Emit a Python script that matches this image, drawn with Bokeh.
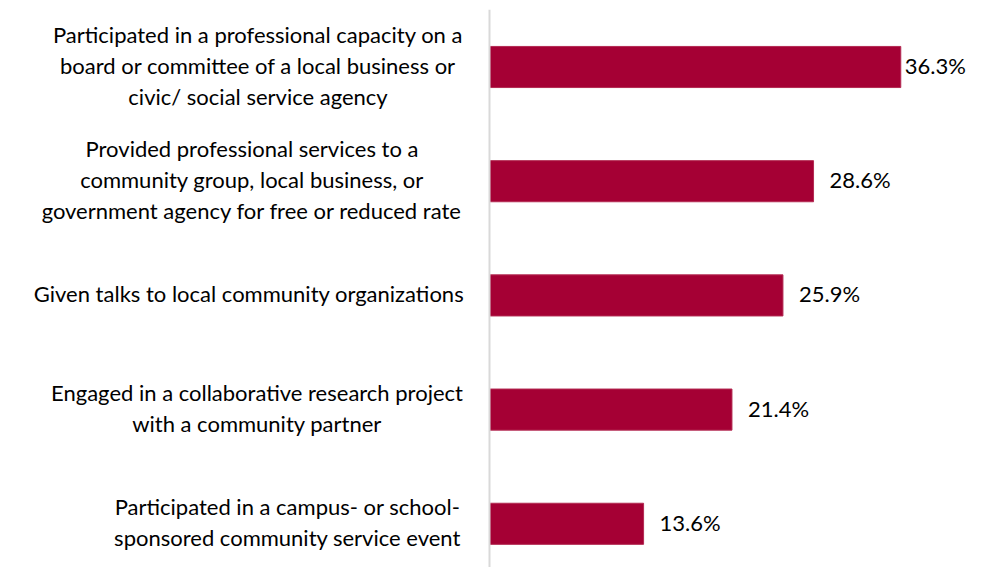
from bokeh.plotting import figure
from bokeh.models import ColumnDataSource, Range1d, Span
from bokeh.core.properties import value
from bokeh.embed import file_html
from bokeh.resources import INLINE

categories = [
    "Participated in a professional capacity on a\nboard or committee of a local business or\ncivic/ social service agency",
    "Provided professional services to a\ncommunity group, local business, or\ngovernment agency for free or reduced rate",
    "Given talks to local community organizations",
    "Engaged in a collaborative research project\nwith a community partner",
    "Participated in a campus- or school-\nsponsored community service event",
]
values = [36.3, 28.6, 25.9, 21.4, 13.6]
value_labels = ["36.3%", "28.6%", "25.9%", "21.4%", "13.6%"]

# ---- layout (pixels) ----
W, H = 981, 567
TOP_BORDER = 9
axis_px = 489
px_per_unit = 11.33
row_px = 114.2
first_center = 57.5          # centre of first row, below frame top
line_px = 31                 # spacing of label lines
text_shift = -1.5            # vertical nudge of all texts
label_centres = [-231.5, -237.5, -240.5, -232.5, -202]   # block centre relative to axis

x_start = -axis_px / px_per_unit
x_end = (W - axis_px) / px_per_unit
top = -first_center / row_px
bottom = top + (H - TOP_BORDER) / row_px

ypos = list(range(len(categories)))
offsets = [4 if v == max(values) else 16 for v in values]

src = ColumnDataSource(dict(y=ypos, v=values, lab=value_labels, off=offsets))

# one row per text line of the category labels
ly, ltxt, lxo, lyo = [], [], [], []
for i, cat in enumerate(categories):
    lines = cat.split("\n")
    n = len(lines)
    for j, ln in enumerate(lines):
        ly.append(i)
        ltxt.append(ln)
        lxo.append(label_centres[i])
        lyo.append((j - (n - 1) / 2) * line_px + text_shift)
lsrc = ColumnDataSource(dict(y=ly, t=ltxt, xo=lxo, yo=lyo))

p = figure(width=W, height=H, output_backend="svg", toolbar_location=None,
           x_range=Range1d(x_start, x_end), y_range=Range1d(bottom, top),
           min_border=0, min_border_left=0, min_border_right=0,
           min_border_top=TOP_BORDER, min_border_bottom=0)
p.axis.visible = False
p.grid.visible = False
p.outline_line_color = None
p.background_fill_color = "white"
p.border_fill_color = "white"

p.add_layout(Span(location=0, dimension="height", line_color="#d9d9d9", line_width=2))

p.hbar(y="y", left=0, right="v", height=0.36, source=src,
       fill_color="#A50034", line_color="#B32A52", line_width=1)

FONT = "Lato"
p.text(x="v", y="y", text="lab", x_offset="off", y_offset=text_shift, source=src,
       text_font=value(FONT), text_font_size="22px", text_color="#000000",
       text_align="left", text_baseline="middle")
p.text(x=0, y="y", text="t", x_offset="xo", y_offset="yo", source=lsrc,
       text_font=value(FONT), text_font_size="22px", text_color="#000000",
       text_align="center", text_baseline="middle")

open("out.html", "w").write(file_html(p, INLINE))
